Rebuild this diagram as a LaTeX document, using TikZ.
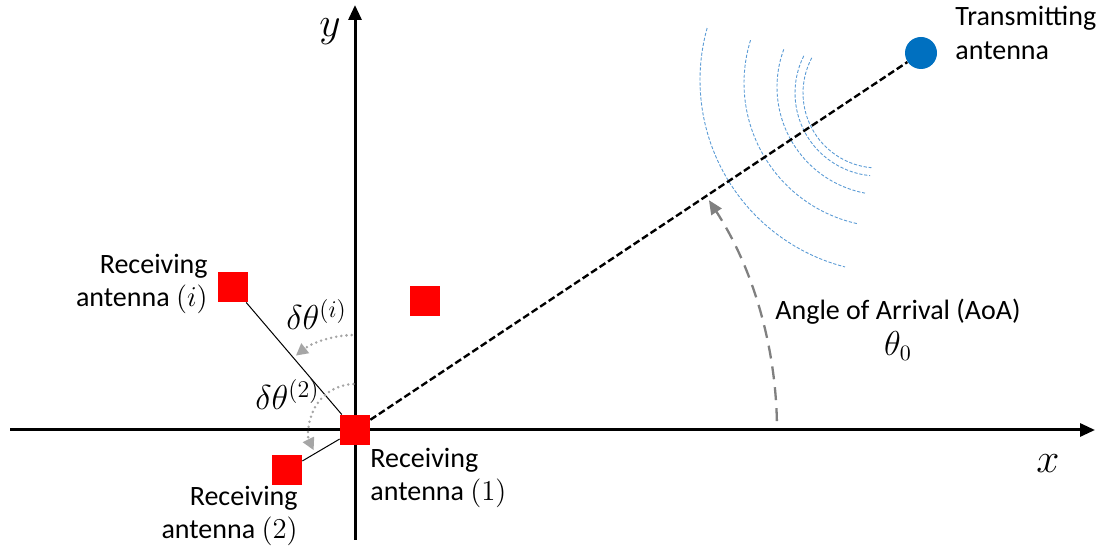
\documentclass[tikz,border=0pt]{standalone}
\usepackage{fontspec}
\setmainfont{Carlito}
\usetikzlibrary{arrows.meta,calc}
\definecolor{tblue}{HTML}{0070C0}
\definecolor{wblue}{HTML}{5B9BD5}
\definecolor{agrey}{HTML}{808080}
\definecolor{lgrey}{HTML}{A6A6A6}
\begin{document}
\begin{tikzpicture}[x=0.5pt,y=0.5pt,
 ant/.style={fill=red, minimum size=15pt, inner sep=0pt, draw=none},
 lbl/.style={font=\fontsize{14}{16.5}\selectfont, align=center, inner sep=0pt},
 mlbl/.style={font=\fontsize{17}{19}\selectfont, inner sep=0pt},
 axlbl/.style={font=\fontsize{22}{24}\selectfont, inner sep=0pt},
 axis/.style={line width=1.5pt, -{Triangle[length=7.5pt,width=6.5pt]}},
 los/.style={line width=1.2pt, dash pattern=on 3.5pt off 1.6pt},
 thinl/.style={line width=0.5pt},
 wave/.style={wblue, line width=0.45pt, dash pattern=on 1.6pt off 0.9pt},
 dotarc/.style={lgrey, line width=1.4pt, dash pattern=on 0pt off 2.6pt, line cap=round, -{Triangle[length=6pt,width=6pt]}},
 aoa/.style={agrey, line width=1.15pt, dash pattern=on 6.5pt off 4pt, -{Triangle[length=7pt,width=6pt]}}
]
\useasboundingbox (0,0) rectangle (1103,546);
% axes
\coordinate (xs) at (10,116);
\coordinate (xe) at (1095,116);
\coordinate (ys) at (355,6);
\coordinate (ye) at (355,541);
\draw[axis] (xs) -- (xe);
\draw[axis] (ys) -- (ye);
\node[axlbl] (xl) at (1048,82) {$x$};
\node[axlbl] (yl) at (330,514) {$y$};
% antennas
\node[ant] (O) at (355,116) {};
\node[ant] (Ai) at (233,259) {};
\node[ant] (Ao) at (425,245) {};
\node[ant] (A2) at (287,76) {};
\node[circle, fill=tblue, minimum size=16pt, inner sep=0pt] (T) at (921,493) {};
% waves
\draw[wave] ([shift={(164.4:96.5pt)}]893,466) arc[start angle=164.4, end angle=255.6, radius=96.5pt];
\draw[wave] ([shift={(162.7:72pt)}]888,463) arc[start angle=162.7, end angle=257.5, radius=72pt];
\draw[wave] ([shift={(159.6:54pt)}]885,459) arc[start angle=159.6, end angle=259.3, radius=54pt];
\draw[wave] ([shift={(153.4:41.5pt)}]878,453) arc[start angle=153.4, end angle=264.5, radius=41.5pt];
\draw[wave] ([shift={(152:37.5pt)}]878,453) arc[start angle=152, end angle=265, radius=37.5pt];
% connectors
\draw[los] (O) -- (T);
\draw[thinl] (O) -- (Ai);
\draw[thinl] (O) -- (A2);
\node[ant] at (O) {};
% angle arcs
\draw[dotarc] ([shift={(92:47.5pt)}]O.center) arc[start angle=92, end angle=128.5, radius=47.5pt];
\draw[dotarc] ([shift={(92:23pt)}]O.center) arc[start angle=92, end angle=206, radius=23pt];
\draw[aoa] ([shift={(1.2:211pt)}]O.center) arc[start angle=1.2, end angle=33, radius=211pt];
% labels
\node[lbl, font=\fontsize{14}{17}\selectfont, align=left, anchor=west] (Tl) at (955,513) {Transmitting\\antenna};
\node[lbl, align=right, anchor=east] (Li) at (208,262) {Receiving\\antenna $(i)$};
\node[lbl, align=right, anchor=east] (L2) at (298,30) {Receiving\\antenna $(2)$};
\node[lbl, align=left, anchor=west] (L1) at (370,68) {Receiving\\antenna $(1)$};
\node[mlbl, anchor=base west] (di) at (286,216) {$\delta\theta^{(i)}$};
\node[mlbl, anchor=base west] (d2) at (255,136) {$\delta\theta^{(2)}$};
\node[lbl, font=\fontsize{14}{18}\selectfont] (AoA) at (898,216) {Angle of Arrival (AoA)\\{\fontsize{16}{18}\selectfont$\theta_0$}};
\end{tikzpicture}
\end{document}
